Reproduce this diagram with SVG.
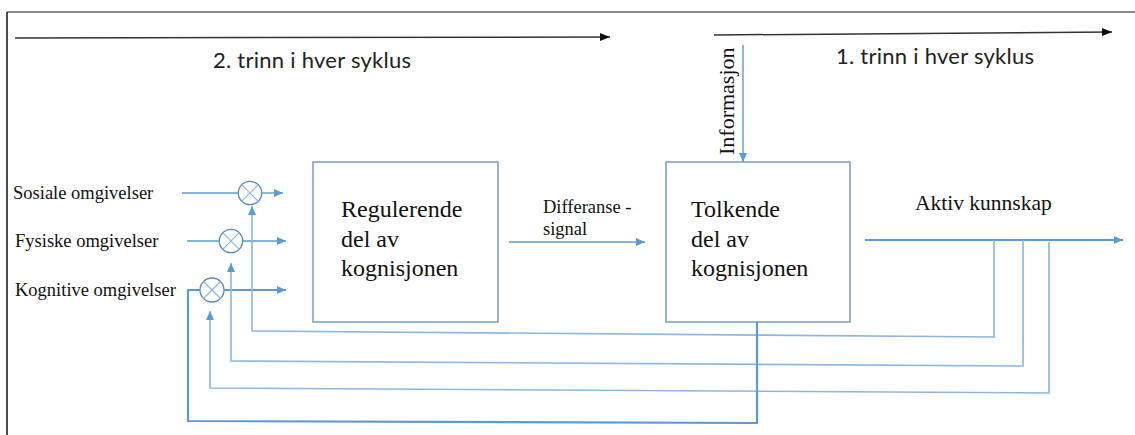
<svg xmlns="http://www.w3.org/2000/svg" width="1135" height="435" viewBox="0 0 1135 435">
<style>
.serif{font-family:"Liberation Serif","Times New Roman",serif;fill:#111}
.sans{font-family:Lato,"Liberation Sans",sans-serif;fill:#222}
.box{fill:#fff;stroke:#6F95C4;stroke-width:1.4}
.blue{fill:none;stroke:#5B9BD5;stroke-width:1.4}
.loop{fill:none;stroke:#8DB6E2;stroke-width:1.6}
.thick{fill:none;stroke:#5B9BD5;stroke-width:2.2}
.blk{fill:none;stroke:#333;stroke-width:1.5}
.sum circle{fill:#fff;stroke:#5A86BE;stroke-width:1.3}
.sum path{stroke:#8DB6E2;stroke-width:1.2;fill:none}
</style>
<defs>
<marker id="ab" markerUnits="userSpaceOnUse" markerWidth="10" markerHeight="8" refX="9" refY="4" orient="auto"><path d="M0,0 L9,4 L0,8 Z" fill="#5B9BD5"/></marker>
<marker id="ak" markerUnits="userSpaceOnUse" markerWidth="11" markerHeight="8" refX="10" refY="4" orient="auto"><path d="M0,0 L10,4 L0,8 Z" fill="#111"/></marker>
</defs>
<g id="frame">
<line x1="7" y1="12" x2="1135" y2="12" stroke="#666" stroke-width="1.5"/>
<line x1="7" y1="12" x2="7" y2="435" stroke="#111" stroke-width="1.5"/>
</g>
<g id="stage2">
<line class="blk" x1="15" y1="38" x2="610" y2="37" marker-end="url(#ak)"/>
<text class="sans" x="213" y="68" font-size="22" textLength="198" lengthAdjust="spacing">2. trinn i hver syklus</text>
</g>
<g id="stage1">
<line class="blk" x1="714" y1="35" x2="1112" y2="32" marker-end="url(#ak)"/>
<text class="sans" x="836" y="64" font-size="22" textLength="198" lengthAdjust="spacing">1. trinn i hver syklus</text>
</g>
<g id="inputs">
<text class="serif" x="13" y="199" font-size="18.5">Sosiale omgivelser</text>
<text class="serif" x="15" y="247" font-size="18.5">Fysiske omgivelser</text>
<text class="serif" x="15" y="296" font-size="18.5">Kognitive omgivelser</text>
</g>
<g id="sum1" class="sum"><circle cx="250" cy="193" r="11.7"/><path d="M241.7,184.7 L258.3,201.3 M258.3,184.7 L241.7,201.3"/></g>
<g id="sum2" class="sum"><circle cx="231" cy="241" r="11.7"/><path d="M222.7,232.7 L239.3,249.3 M239.3,232.7 L222.7,249.3"/></g>
<g id="sum3" class="sum"><circle cx="212" cy="290" r="12"/><path d="M203.5,281.5 L220.5,298.5 M220.5,281.5 L203.5,298.5"/></g>
<g id="regulerende">
<rect class="box" x="313" y="162" width="185" height="160"/>
<text class="serif" font-size="24" x="341" y="217">Regulerende</text>
<text class="serif" font-size="24" x="341" y="247">del av</text>
<text class="serif" font-size="24" x="341" y="276">kognisjonen</text>
</g>
<g id="tolkende">
<rect class="box" x="666" y="162" width="184" height="160"/>
<text class="serif" font-size="24" x="691" y="217">Tolkende</text>
<text class="serif" font-size="24" x="691" y="247">del av</text>
<text class="serif" font-size="24" x="691" y="276">kognisjonen</text>
</g>
<g id="labels">
<text class="serif" font-size="18.5" x="543" y="213">Differanse -</text>
<text class="serif" font-size="18.5" x="543" y="235">signal</text>
<text class="serif" font-size="21.5" x="915" y="210">Aktiv kunnskap</text>
<text class="serif" font-size="22" transform="translate(734,155) rotate(-90)">Informasjon</text>
</g>
<g id="connectors">
<line class="blue" x1="182" y1="193" x2="238.3" y2="193"/>
<line class="blue" x1="261.7" y1="193" x2="283" y2="193" marker-end="url(#ab)"/>
<line class="blue" x1="187" y1="241" x2="219.3" y2="241"/>
<line class="blue" x1="242.7" y1="241" x2="286" y2="241" marker-end="url(#ab)"/>
<line class="thick" x1="224" y1="290" x2="286" y2="290" marker-end="url(#ab)"/>
<line class="blue" x1="509" y1="242" x2="645" y2="242" marker-end="url(#ab)"/>
<line class="blue" x1="743" y1="45" x2="743" y2="162" marker-end="url(#ab)"/>
<line class="thick" x1="865" y1="240" x2="1123" y2="240" marker-end="url(#ab)"/>
<polyline class="loop" points="994,240 994,337 252,331 252,206" marker-end="url(#ab)"/>
<polyline class="loop" points="1023,240 1023,366 231,361 231,263" marker-end="url(#ab)"/>
<polyline class="loop" points="1049,242 1049,393 210,388 210,311" marker-end="url(#ab)"/>
<polyline class="thick" points="757,322 757,423 188,421 188,290 200,290"/>
</g>
</svg>
